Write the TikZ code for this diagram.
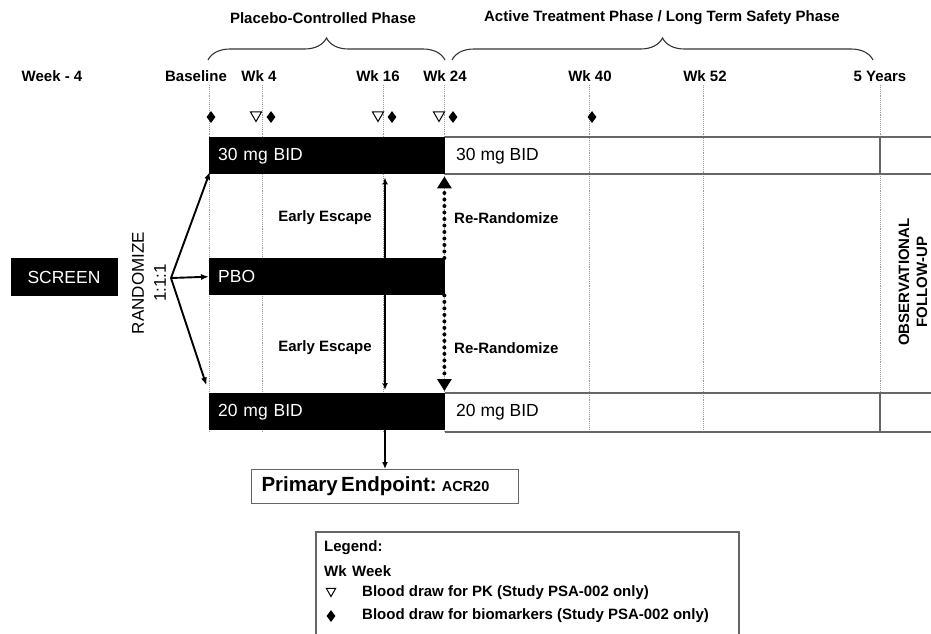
\documentclass[tikz,border=0pt]{standalone}
\usepackage{fontspec}
\setmainfont{Liberation Sans}
\usetikzlibrary{arrows.meta,decorations.pathreplacing,shapes.geometric,backgrounds}
\tikzset{
  lbl/.style={font=\fontsize{15}{17}\selectfont\bfseries, inner sep=1pt},
  bar/.style={fill=black, text=white, anchor=north west, minimum width=236, minimum height=37,
    inner xsep=9, text width=218, font=\fontsize{17.5}{19}\selectfont},
  cell/.style={anchor=north west, minimum height=37, inner xsep=9, font=\fontsize{17.5}{19}\selectfont},
  wkline/.style={gray!80, densely dotted, line width=0.9},
  gridline/.style={black!60, line width=1.4},
  bio/.style={diamond, fill=black, inner sep=0, minimum width=9, minimum height=12},
  pk/.style={regular polygon, regular polygon sides=3, shape border rotate=180, draw, line width=1,
    inner sep=0, minimum size=13},
  randarrow/.style={-{Latex[length=8,width=6]}, line width=1.9},
  rerand/.style={-{Triangle[length=12,width=14]}, line width=4, dash pattern=on 0pt off 6.5pt, line cap=round},
}
\begin{document}
\begin{tikzpicture}[x=1pt, y=-1pt]
\useasboundingbox (0,0) rectangle (931,633);
% phases
\node[lbl] (pcp) at (323,18) {Placebo-Controlled Phase};
\node[lbl] (atp) at (662,18) {Active Treatment Phase / Long Term Safety Phase};
\draw[decorate, decoration={brace, amplitude=22}, line width=1.1, black!80] (208,60) -- (445,60);
\draw[decorate, decoration={brace, amplitude=22}, line width=1.1, black!80] (452,60) -- (873,60);
% time points
\node[lbl] (wkm4) at (52,76) {Week - 4};
\node[lbl] (base) at (196,76) {Baseline};
\node[lbl] (wk4) at (259,76) {Wk 4};
\node[lbl] (wk16) at (378,76) {Wk 16};
\node[lbl] (wk24) at (445,76) {Wk 24};
\node[lbl] (wk40) at (590,76) {Wk 40};
\node[lbl] (wk52) at (705,76) {Wk 52};
\node[lbl] (yr5) at (880,76) {5 Years};
\foreach \x in {209,262,383,444,589,703,880}
  \draw[wkline] (\x,85) -- (\x,432);
% sampling
\foreach \x [count=\i] in {211,271,392,453,592}
  \node[bio] (bio\i) at (\x,117) {};
\foreach \x [count=\i] in {256,378,439}
  \node[pk] (pk\i) at (\x,115) {};
% arms
\node[bar] (b30) at (209,137) {30 mg BID};
\node[bar] (pbo) at (209,258) {PBO};
\node[bar] (b20) at (209,393) {20 mg BID};
\node[cell] (r30) at (447,137) {30 mg BID};
\node[cell] (r20) at (447,393) {20 mg BID};
\draw[gridline] (445,137) -- (931,137) (445,174) -- (931,174);
\draw[gridline] (445,393) -- (931,393) (445,432) -- (931,432);
\draw[gridline] (880,137) -- (880,174) (880,393) -- (880,432);
% screening and randomisation
\node[fill=black, text=white, minimum width=107, minimum height=38, font=\fontsize{17.5}{19}\selectfont] (scr) at (64,277) {SCREEN};
\node[rotate=90, align=center, font=\fontsize{17}{22}\selectfont] (rnd) at (149,283) {RANDOMIZE\\1:1:1};
\coordinate (rnd0) at (171,278);
\draw[randarrow, shorten >=-3] (rnd0) -- (b30.south west);
\draw[randarrow] (rnd0) -- (pbo.west);
\draw[randarrow, shorten >=8] (rnd0) -- (b20.north west);
% endpoint
\node[draw=black!60, line width=1.3, anchor=north, minimum width=267, minimum height=34, text width=247,
  inner xsep=10, align=left] (pe) at (385,469)
  {\fontsize{20.5}{22}\selectfont\bfseries Primary Endpoint: \fontsize{14.5}{16}\selectfont ACR20};
\begin{scope}[on background layer]
\draw[{Latex[length=7,width=6]}-{Latex[length=7,width=6]}, line width=1.6, shorten <=3, shorten >=3] (pe.north |- b30.south) -- (pe.north |- b20.north);
\end{scope}
\draw[-{Latex[length=7,width=6]}, line width=1.6] (pe.north |- b20.south) -- (pe.north);
\draw[rerand, shorten >=2] ([xshift=-1]pbo.north east) -- ([xshift=-1]b30.south east);
\draw[rerand, shorten >=2] ([xshift=-1]pbo.south east) -- ([xshift=-1]b20.north east);
\node[lbl] (esc1) at (325,218) {Early Escape};
\node[lbl] (esc2) at (325,348) {Early Escape};
\node[lbl, anchor=west] (rr1) at (453,218) {Re-Randomize};
\node[lbl, anchor=west] (rr2) at (453,348) {Re-Randomize};
\node[lbl, rotate=90, align=center, font=\fontsize{15}{18}\selectfont\bfseries] (obs) at (913,282) {OBSERVATIONAL\\FOLLOW-UP};
% legend
\draw[black!60, line width=1.3] (316,532) rectangle (739,640);
\node[lbl, anchor=west] (lg) at (323,548) {Legend:};
\node[lbl, anchor=west] (lgwk) at (323,571) {Wk};
\node[lbl, anchor=west] (lgweek) at (351,571) {Week};
\node[pk, minimum size=11] (lgpk) at (331,591) {};
\node[lbl, anchor=west] (lgpkt) at (361,593) {Blood draw for PK (Study PSA-002 only)};
\node[bio] (lgbio) at (331,616) {};
\node[lbl, anchor=west] (lgbiot) at (361,616) {Blood draw for biomarkers (Study PSA-002 only)};
\end{tikzpicture}
\end{document}
